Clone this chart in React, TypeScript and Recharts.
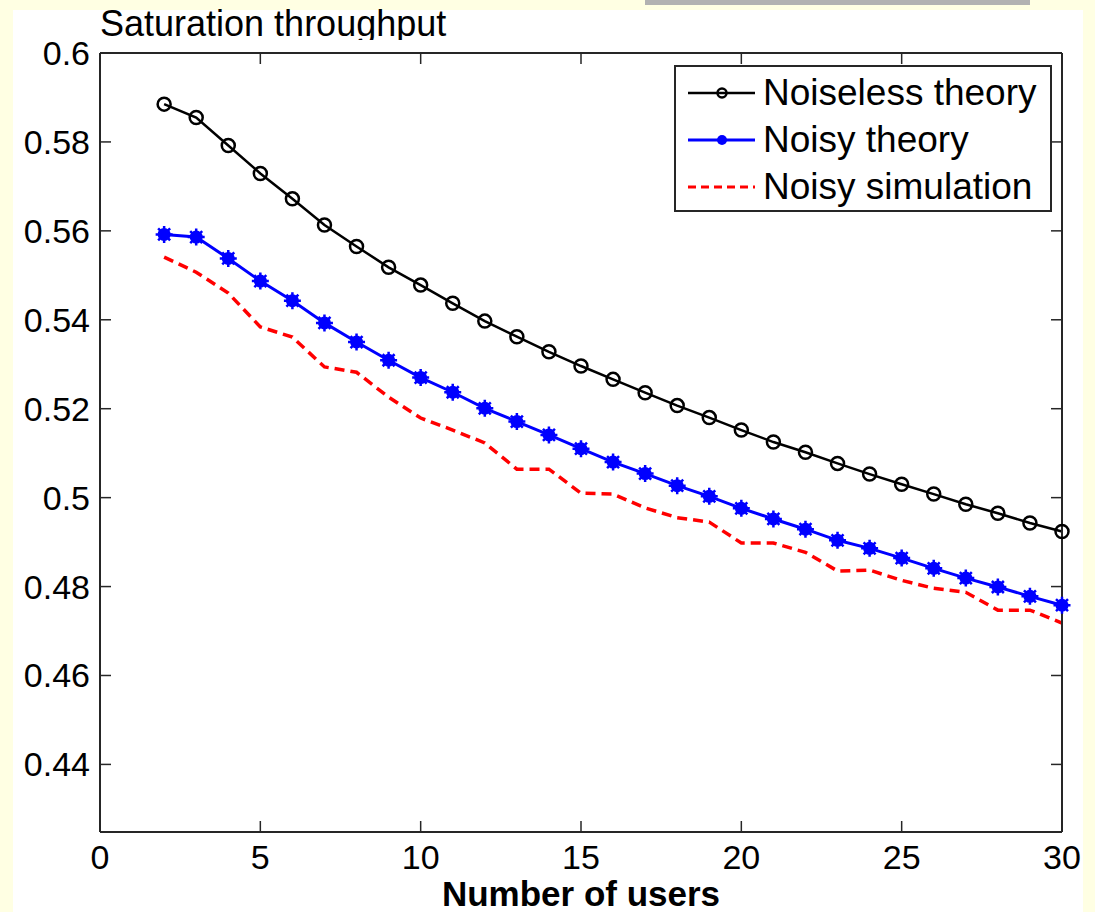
import React from 'react';
import { LineChart, Line, XAxis, YAxis, Legend } from 'recharts';

const users = [2, 3, 4, 5, 6, 7, 8, 9, 10, 11, 12, 13, 14, 15, 16, 17, 18, 19, 20, 21, 22, 23, 24, 25, 26, 27, 28, 29, 30];
const noiselessTheory = [0.5885, 0.5855, 0.5792, 0.5729, 0.5672, 0.5613, 0.5565, 0.5518, 0.5478, 0.5437, 0.5397, 0.5362, 0.5328, 0.5296, 0.5266, 0.5236, 0.5207, 0.518, 0.5152, 0.5125, 0.5102, 0.5077, 0.5053, 0.503, 0.5008, 0.4985, 0.4965, 0.4943, 0.4924];
const noisyTheory = [0.5592, 0.5586, 0.5538, 0.5487, 0.5443, 0.5393, 0.535, 0.5309, 0.527, 0.5237, 0.5201, 0.5171, 0.5141, 0.511, 0.508, 0.5054, 0.5027, 0.5003, 0.4976, 0.4952, 0.4929, 0.4904, 0.4886, 0.4864, 0.4841, 0.4819, 0.4799, 0.4778, 0.4758];
const noisySimulation = [0.5541, 0.5507, 0.546, 0.5384, 0.5361, 0.5294, 0.5282, 0.5226, 0.5179, 0.5152, 0.5123, 0.5064, 0.5064, 0.501, 0.5008, 0.4977, 0.4955, 0.4945, 0.4898, 0.4898, 0.4877, 0.4835, 0.4837, 0.4814, 0.4796, 0.4787, 0.4747, 0.4747, 0.4718];

const xTicks = [0, 5, 10, 15, 20, 25, 30];
const yTicks = [0.44, 0.46, 0.48, 0.5, 0.52, 0.54, 0.56, 0.58, 0.6];
const seriesNames = ['Noiseless theory', 'Noisy theory', 'Noisy simulation'];
const titleText = 'Saturation throughput';
const xLabelText = 'Number of users';

const data = users.map((u, i) => ({
  users: u,
  noiseless: noiselessTheory[i],
  noisy: noisyTheory[i],
  sim: noisySimulation[i],
}));

const FONT = '"Liberation Sans", Arial, Helvetica, sans-serif';
const AXIS = '#262626';
const TICK_LEN = 11;

function BottomTick(props: any) {
  const { x, y, payload } = props;
  return (
    <g>
      <line x1={x} x2={x} y1={y} y2={y - TICK_LEN} stroke={AXIS} strokeWidth={1.5} />
      <text x={x} y={y + 37} textAnchor="middle" fontFamily={FONT} fontSize={34} fill="#000">
        {payload.value}
      </text>
    </g>
  );
}

function TopTick(props: any) {
  const { x, y } = props;
  return <line x1={x} x2={x} y1={y} y2={y + TICK_LEN} stroke={AXIS} strokeWidth={1.5} />;
}

function LeftTick(props: any) {
  const { x, y, payload } = props;
  return (
    <g>
      <line x1={x} x2={x + TICK_LEN} y1={y} y2={y} stroke={AXIS} strokeWidth={1.5} />
      <text x={x - 10} y={y + 12} textAnchor="end" fontFamily={FONT} fontSize={34} fill="#000">
        {String(payload.value)}
      </text>
    </g>
  );
}

function RightTick(props: any) {
  const { x, y } = props;
  return <line x1={x} x2={x - TICK_LEN} y1={y} y2={y} stroke={AXIS} strokeWidth={1.5} />;
}

function StarDot(props: any) {
  const { cx, cy } = props;
  if (cx == null || cy == null) return <g />;
  const d = `M${cx - 8.5} ${cy}H${cx + 8.5}M${cx} ${cy - 8.5}V${cy + 8.5}M${cx - 6} ${cy - 6}L${cx + 6} ${cy + 6}M${cx - 6} ${cy + 6}L${cx + 6} ${cy - 6}`;
  return (
    <g>
      <circle cx={cx} cy={cy} r={6.5} fill="#0000ff" />
      <path d={d} stroke="#0000ff" strokeWidth={2.5} />
    </g>
  );
}

function renderLegend() {
  const rows = [28, 75, 122];
  return (
    <svg width={378} height={147} style={{ display: 'block' }}>
      <rect x={1} y={1} width={376} height={145} fill="#ffffff" stroke={AXIS} strokeWidth={2} />
      <line x1={14} x2={81} y1={rows[0]} y2={rows[0]} stroke="#000" strokeWidth={2.5} />
      <circle cx={48} cy={rows[0]} r={4.5} fill="none" stroke="#000" strokeWidth={2.5} />
      <line x1={14} x2={81} y1={rows[1]} y2={rows[1]} stroke="#0000ff" strokeWidth={3} />
      <circle cx={48} cy={rows[1]} r={5} fill="#0000ff" />
      <line x1={14} x2={81} y1={rows[2]} y2={rows[2]} stroke="#ff0000" strokeWidth={3} strokeDasharray="8 5" />
      {seriesNames.map((n, i) => (
        <text key={n} x={89} y={rows[i] + 12} fontFamily={FONT} fontSize={37} fill="#000">
          {n}
        </text>
      ))}
    </svg>
  );
}

function XLabel(props: any) {
  const vb = props.viewBox || {};
  return (
    <text
      x={vb.x + vb.width / 2}
      y={vb.y + 74}
      textAnchor="middle"
      fontFamily={FONT}
      fontSize={35}
      fontWeight="bold"
      fill="#000"
    >
      {xLabelText}
    </text>
  );
}

export default function App() {
  return (
    <div style={{ position: 'absolute', left: 0, top: 0, width: 1095, height: 912, background: '#ffffe3', overflow: 'hidden' }}>
      <div style={{ position: 'absolute', left: 13, top: 10, width: 1070, height: 902, background: '#ffffff' }} />
      <div style={{ position: 'absolute', left: 645, top: 0, width: 385, height: 5, background: '#b2b2b2' }} />
      <div style={{ position: 'absolute', left: 0, top: 0 }}>
        <LineChart width={1095} height={912} data={data} margin={{ top: 52, right: 32, bottom: 0, left: 0 }}>
          <XAxis
            dataKey="users"
            type="number"
            domain={[0, 30]}
            ticks={xTicks}
            interval={0}
            height={80}
            tickSize={0}
            tickMargin={0}
            tickLine={false}
            tick={BottomTick}
            axisLine={{ stroke: AXIS, strokeWidth: 2 }}
            label={{ value: xLabelText, content: XLabel }}
          />
          <XAxis
            xAxisId="top"
            orientation="top"
            dataKey="users"
            type="number"
            domain={[0, 30]}
            ticks={xTicks}
            interval={0}
            height={1}
            tickSize={0}
            tickMargin={0}
            tickLine={false}
            tick={TopTick}
            axisLine={{ stroke: AXIS, strokeWidth: 2 }}
          />
          <YAxis
            type="number"
            domain={[0.4248, 0.6]}
            ticks={yTicks}
            interval={0}
            allowDataOverflow
            width={100}
            tickSize={0}
            tickMargin={0}
            tickLine={false}
            tick={LeftTick}
            axisLine={{ stroke: AXIS, strokeWidth: 2 }}
          />
          <YAxis
            yAxisId="right"
            orientation="right"
            type="number"
            domain={[0.4248, 0.6]}
            ticks={yTicks}
            interval={0}
            allowDataOverflow
            width={1}
            tickSize={0}
            tickMargin={0}
            tickLine={false}
            tick={RightTick}
            axisLine={{ stroke: AXIS, strokeWidth: 2 }}
          />
          <Legend
            layout="vertical"
            align="center"
            verticalAlign="middle"
            content={renderLegend}
            wrapperStyle={{ left: 674, top: 65, width: 378, height: 147 }}
          />
          <Line
            dataKey="sim"
            name={seriesNames[2]}
            stroke="#ff0000"
            strokeWidth={3.5}
            strokeDasharray="10 6"
            dot={false}
            activeDot={false}
            isAnimationActive={false}
          />
          <Line
            dataKey="noisy"
            name={seriesNames[1]}
            stroke="#0000ff"
            strokeWidth={3}
            dot={StarDot}
            activeDot={false}
            isAnimationActive={false}
          />
          <Line
            dataKey="noiseless"
            name={seriesNames[0]}
            stroke="#000000"
            strokeWidth={2.5}
            dot={{ r: 6.5, stroke: '#000000', strokeWidth: 2.5, fill: 'none' }}
            activeDot={false}
            isAnimationActive={false}
          />
        </LineChart>
      </div>
      <svg width={1095} height={40} style={{ position: 'absolute', left: 0, top: 0, overflow: 'hidden' }}>
        <text x={100} y={36} fontFamily={FONT} fontSize={36} fill="#000">
          {titleText}
        </text>
      </svg>
    </div>
  );
}
